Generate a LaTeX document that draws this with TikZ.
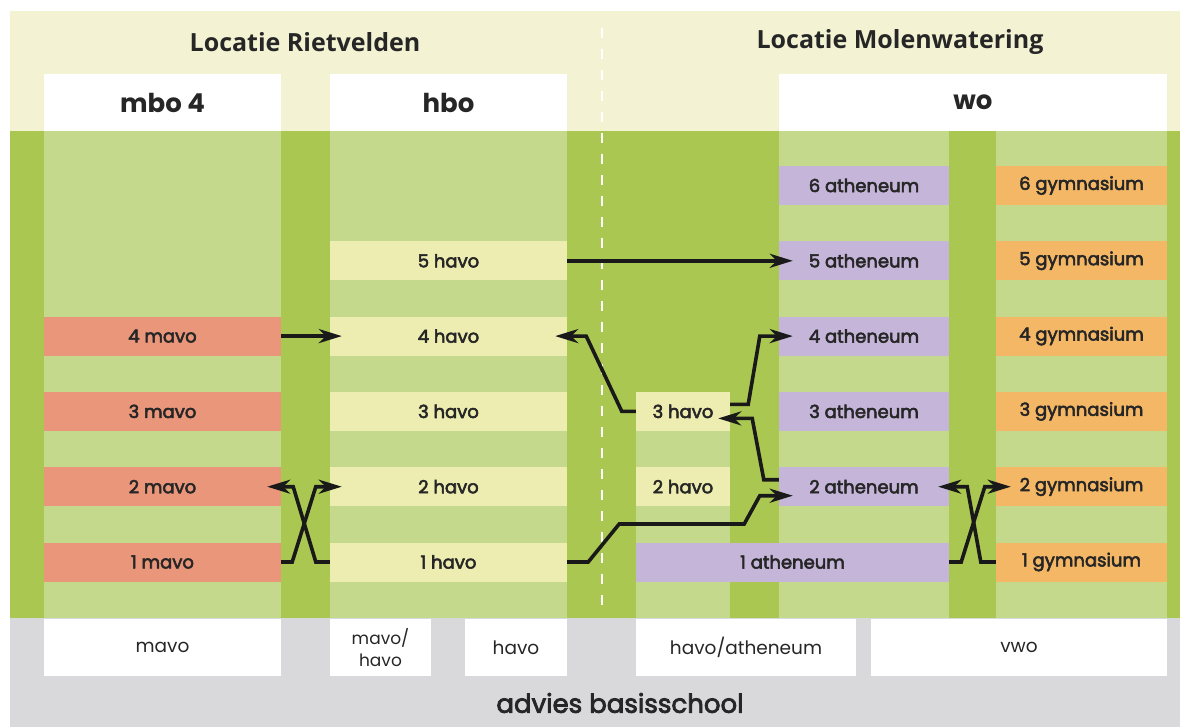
\documentclass[tikz,border=0pt]{standalone}
\usepackage{fontspec}
\setmainfont{Poppins}
\newfontfamily\medfont{Poppins}[FakeBold=3]
\newfontfamily\titlefont{Open Sans}
\usetikzlibrary{calc,arrows.meta}

\definecolor{bandyellow}{HTML}{F3F3D3}
\definecolor{darkgreen}{HTML}{AAC752}
\definecolor{lightgreen}{HTML}{C5D98D}
\definecolor{basegray}{HTML}{D9D9DB}
\definecolor{mavocol}{HTML}{EA967A}
\definecolor{havocol}{HTML}{EEEDB1}
\definecolor{athcol}{HTML}{C4B5D9}
\definecolor{gymcol}{HTML}{F4B766}

\tikzset{
  cell/.style={rectangle, minimum height=39pt, inner sep=0pt, text=black!85,
    font=\medfont\fontsize{18}{20}\selectfont},
  head/.style={rectangle, fill=white, minimum height=57pt, inner sep=0pt,
    text=black!85, font=\bfseries\fontsize{26}{28}\selectfont},
  foot/.style={rectangle, fill=white, minimum height=57pt, inner sep=0pt,
    text=black!85, align=center, font=\fontsize{18.5}{20}\selectfont},
  conn/.style={-{Stealth[length=23pt,width=14pt,inset=7pt]}, line width=3.6pt, black!90},
}

\begin{document}
\begin{tikzpicture}[x=1pt,y=-1pt]
\useasboundingbox (0,0) rectangle (1180,727);

% background
\fill[bandyellow] (10,11) rectangle (1180,131);
\fill[darkgreen] (10,131) rectangle (1180,618);
\fill[basegray] (10,618) rectangle (1180,727);
\fill[lightgreen] (44,131) rectangle (281,618);
\fill[lightgreen] (330,131) rectangle (567,618);
\fill[lightgreen] (636,392) rectangle (730,618);
\fill[lightgreen] (779,131) rectangle (949,618);
\fill[lightgreen] (996,131) rectangle (1167,618);
\draw[white, line width=2.5pt, dash pattern=on 10pt off 11pt] (602,28) -- (602,615);

\node[text=black!85, font=\titlefont\bfseries\fontsize{25}{29}\selectfont] (rietvelden) at (305,42) {Locatie Rietvelden};
\node[text=black!85, font=\titlefont\bfseries\fontsize{25}{29}\selectfont] (molenwatering) at (900,42) {Locatie Molenwatering};

\node[head, minimum width=237pt] (mbo) at (162.5,102.5) {mbo 4};
\node[head, minimum width=237pt] (hbo) at (448.5,102.5) {hbo};
\node[head, minimum width=388pt] (wo) at (973,102.5) {wo};

% mavo
\node[cell, fill=mavocol, minimum width=237pt] (m4) at (162.5,336.1) {4 mavo};
\node[cell, fill=mavocol, minimum width=237pt] (m3) at (162.5,411.4) {3 mavo};
\node[cell, fill=mavocol, minimum width=237pt] (m2) at (162.5,486.7) {2 mavo};
\node[cell, fill=mavocol, minimum width=237pt] (m1) at (162.5,562) {1 mavo};

% havo
\node[cell, fill=havocol, minimum width=237pt] (h5) at (448.5,260.8) {5 havo};
\node[cell, fill=havocol, minimum width=237pt] (h4) at (448.5,336.1) {4 havo};
\node[cell, fill=havocol, minimum width=237pt] (h3) at (448.5,411.4) {3 havo};
\node[cell, fill=havocol, minimum width=237pt] (h2) at (448.5,486.7) {2 havo};
\node[cell, fill=havocol, minimum width=237pt] (h1) at (448.5,562) {1 havo};

\node[cell, fill=havocol, minimum width=94pt] (k3) at (683,411.4) {3 havo};
\node[cell, fill=havocol, minimum width=94pt] (k2) at (683,486.7) {2 havo};

% atheneum
\node[cell, fill=athcol, minimum width=170pt] (a6) at (864,185.5) {6 atheneum};
\node[cell, fill=athcol, minimum width=170pt] (a5) at (864,260.8) {5 atheneum};
\node[cell, fill=athcol, minimum width=170pt] (a4) at (864,336.1) {4 atheneum};
\node[cell, fill=athcol, minimum width=170pt] (a3) at (864,411.4) {3 atheneum};
\node[cell, fill=athcol, minimum width=170pt] (a2) at (864,486.7) {2 atheneum};
\node[cell, fill=athcol, minimum width=313pt] (a1) at (792.5,562) {1 atheneum};

% gymnasium
\node[cell, fill=gymcol, minimum width=171pt] (g6) at (1081.5,185.5) {6 gymnasium};
\node[cell, fill=gymcol, minimum width=171pt] (g5) at (1081.5,260.8) {5 gymnasium};
\node[cell, fill=gymcol, minimum width=171pt] (g4) at (1081.5,336.1) {4 gymnasium};
\node[cell, fill=gymcol, minimum width=171pt] (g3) at (1081.5,411.4) {3 gymnasium};
\node[cell, fill=gymcol, minimum width=171pt] (g2) at (1081.5,486.7) {2 gymnasium};
\node[cell, fill=gymcol, minimum width=171pt] (g1) at (1081.5,562) {1 gymnasium};

% advies
\node[foot, minimum width=237pt] (amavo) at (162.5,647.5) {mavo};
\node[foot, minimum width=101pt, font=\fontsize{17}{22}\selectfont] (amavohavo) at (380.5,647.5) {mavo/\\havo};
\node[foot, minimum width=102pt] (ahavo) at (516,647.5) {havo};
\node[foot, minimum width=220pt] (aath) at (746,647.5) {havo/atheneum};
\node[foot, minimum width=296pt] (avwo) at (1019,647.5) {vwo};
\node[text=black!85, font=\medfont\fontsize{26}{28}\selectfont] (advies) at (620,703) {advies basisschool};

% arrows
\draw[conn] (m4.east) -- ($(h4.west)+(12,0)$);
\draw[conn] (m1.east) -- ++(11,0) -- ($(h2.west)+(-14,0)$) -- ($(h2.west)+(12,0)$);
\draw[conn] (h1.west) -- ++(-14,0) -- ($(m2.east)+(12,0)$) -- ($(m2.east)+(-14,0)$);
\draw[conn] (h5.east) -- ($(a5.west)+(14,0)$);
\draw[conn] (h1.east) -- ++(21,0) -- ++(31,-38) -- ++(125,0) -- ($(a2.west)+(-19,9)$) -- ($(a2.west)+(14,9)$);
\draw[conn] (k3.west) -- ++(-14,0) -- ($(h4.east)+(19,0)$) -- ($(h4.east)+(-12,0)$);
\draw[conn] ($(k3.east)+(0,-7)$) -- ++(18,0) -- ($(a4.west)+(-19,0)$) -- ($(a4.west)+(14,0)$);
\draw[conn] ($(a2.west)+(0,-7)$) -- ++(-15,0) -- ($(k3.east)+(22,7)$) -- ($(k3.east)+(-12,7)$);
\draw[conn] (g1.west) -- ++(-15,0) -- ($(a2.east)+(18,0)$) -- ($(a2.east)+(-11,0)$);
\draw[conn] (a1.east) -- ++(12,0) -- ($(g2.west)+(-11,0)$) -- ($(g2.west)+(15,0)$);

\end{tikzpicture}
\end{document}
